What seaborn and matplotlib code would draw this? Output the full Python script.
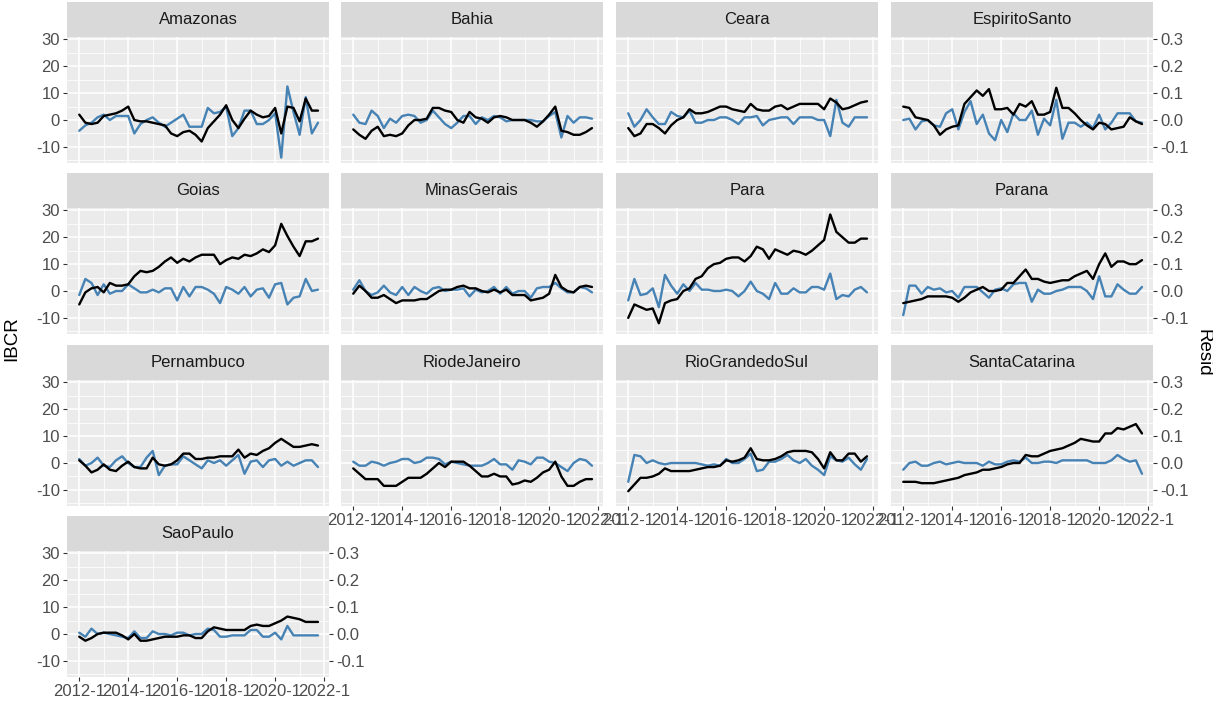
import numpy as np
import pandas as pd
import matplotlib
matplotlib.use("Agg")
import matplotlib.pyplot as plt
from matplotlib.patches import Rectangle
import seaborn as sns

# ---------------------------------------------------------------- data
STATES = ["Amazonas", "Bahia", "Ceara", "EspiritoSanto",
          "Goias", "MinasGerais", "Para", "Parana",
          "Pernambuco", "RiodeJaneiro", "RioGrandedoSul", "SantaCatarina",
          "SaoPaulo"]

# quarterly observations, 2012-01 .. 2021-10
QUARTERS = pd.date_range("2012-01-01", periods=40, freq="QS")

# IBCR deviation, per state
amazonas_ibcr = [2, -1, -1.5, -1, 1.5, 2, 2.5, 3.5, 5, 0, -0.5, -0.5, -1, -1.5, -2, -5,
                 -6, -4.5, -4, -5.5, -8, -3, -0.5, 2, 5.5, 0, -3, 0.5, 3.5, 2, 1, 1.5,
                 4.5, -5, 5, 4.5, -0.5, 8, 3.5, 3.5]
bahia_ibcr = [-3.5, -5.5, -7, -4, -2.5, -6, -5.5, -6, -5, -2, 0, 0, 0.5, 4.5, 4.5, 3.5,
              3, 0, -1, 3, 1, 0.5, -1, 1, 1.5, 1, 0, 0, 0, -1, -2.5, -0.5,
              2, 5, -4, -4.5, -5.5, -5.5, -4.5, -3]
ceara_ibcr = [-3, -6, -5, -1.5, -1.5, -3, -5, -2, 0, 1, 4, 2.5, 2.5, 3, 4, 5,
              5, 4, 3.5, 3, 6, 4, 3.5, 3.5, 5, 5.5, 4, 5, 6, 6, 6, 6,
              4, 8, 6.5, 4, 4.5, 5.5, 6.5, 7]
espiritosanto_ibcr = [5, 4.5, 1, 0.5, 0, -2, -5.5, -3.5, -2.5, -2, 6, 8.5, 11, 9, 11.5, 4,
                      4, 4.5, 2, 6, 5, 7, 2, 2, 3, 12, 4.5, 4.5, 2.5, 0, -2, -3.5,
                      -1, -1.5, -3.5, -3, -2.5, 1, -0.5, -1.5]
goias_ibcr = [-5, -0.5, 1, 1.5, -0.5, 3, 2, 2, 2.5, 5.5, 7.5, 7, 7.5, 9, 11, 12.5,
              10.5, 12, 11, 12.5, 13.5, 13.5, 13.5, 10, 11.5, 12.5, 12, 13.5, 13, 14, 15.5, 14.5,
              17, 25, 20.5, 16.5, 13, 18.5, 18.5, 19.5]
minasgerais_ibcr = [-1, 2, 0, -2.5, -2.5, -1.5, -3, -4.5, -3.5, -3.5, -3.5, -3, -3, -1.5, 0, 0.5,
                    0.5, 1.5, 2, 1, 1, 0, -0.5, 0.5, -0.5, 0.5, -1.5, -1.5, -1.5, -3.5, -3, -2.5,
                    -1, 6, 1.5, 0, -0.5, 1.5, 2, 1.5]
para_ibcr = [-10, -5, -6, -7, -6.5, -12, -4.5, -3.5, -3, 0, 1, 4.5, 5.5, 8.5, 10, 10.5,
             12, 12.5, 12.5, 11, 13, 16.5, 15.5, 12, 15.5, 14.5, 13.5, 15, 14.5, 13.5, 15, 17,
             19, 28.5, 22, 20, 18, 18, 19.5, 19.5]
parana_ibcr = [-4.5, -4, -3.5, -3, -2, -2, -2, -2, -2.5, -4, -2.5, -0.5, 0.5, 1.5, 0, 0,
               0.5, 3, 3, 5.5, 8, 4.5, 4.5, 3.5, 3, 3.5, 4, 4, 5.5, 6.5, 7.5, 4.5,
               10, 14, 9, 11, 11, 10, 10, 11.5]
pernambuco_ibcr = [1, -1, -3.5, -2.5, -0.5, -2.5, -3, -1, 0.5, -1.5, -2, -2, 2, -0.5, -1, -0.5,
                   1, 3.5, 3.5, 1.5, 1.5, 2, 2, 2.5, 2.5, 2.5, 5, 2, 3.5, 3, 4.5, 5.5,
                   7.5, 9, 7.5, 6, 6, 6.5, 7, 6.5]
riodejaneiro_ibcr = [-2, -4, -6, -6, -6, -8.5, -8.5, -8.5, -7, -5.5, -5.5, -5.5, -4, -2, 0, -1.5,
                     0.5, 0.5, 0.5, -1, -3, -5, -5, -4, -5, -5, -8, -7.5, -6.5, -7, -5.5, -3.5,
                     -2.5, 0.5, -5, -8.5, -8.5, -7, -6, -6]
riograndedosul_ibcr = [-10.5, -8, -5.5, -5.5, -5, -4, -2, -3, -3, -3, -3, -2.5, -2, -1.5, -1.5, -1,
                       1, 0.5, 1, 2, 5.5, 1.5, 1, 1, 1.5, 2.5, 4, 4.5, 4.5, 4.5, 4, 1.5,
                       -2, 4, 1, 1, 3.5, 3.5, 0.5, 2.5]
santacatarina_ibcr = [-7, -7, -7, -7.5, -7.5, -7.5, -7, -6.5, -6, -5.5, -4.5, -4, -3.5, -2.5, -2.5, -2,
                      -1.5, -0.5, 0, 0, 3, 2.5, 2.5, 3.5, 4.5, 5, 5.5, 6.5, 7.5, 9, 8.5, 8,
                      8, 11, 11, 13, 12.5, 13.5, 14.5, 11]
saopaulo_ibcr = [-1, -2.5, -1.5, 0, 0.5, 0.5, 0.5, -0.5, -2, 0, -2.5, -2.5, -2, -1.5, -1, -1,
                 -1, -0.5, -0.5, -1.5, -1.5, 1, 2.5, 2, 1.5, 1.5, 1.5, 1.5, 3, 3.5, 3, 3,
                 4, 5, 6.5, 6, 5.5, 4.5, 4.5, 4.5]

# model residuals, per state, in hundredths
amazonas_resid = [-4, -2, -1, 1, 2, 0, 1.5, 1.5, 1.5, -5, -1.5, 0, 1, -1, -2.5, -1,
                  0.5, 2, -2.5, -2.5, -2.5, 4.5, 2.5, 3, 5, -6, -3, 3.5, 3.5, -1.5, -1.5, 0,
                  2.5, -14, 12.5, 3, -5.5, 8.5, -5, -1]
bahia_resid = [2, -1, -1.5, 3.5, 1.5, -3, 0.5, -1, 1.5, 2, 1.5, -1, 0, 3.5, 1, -1.5,
               -3, -1, 1.5, 1.5, -1.5, 1, 0, 1.5, 1, -0.5, 0, 0, 0, 0, -0.5, -0.5,
               1.5, 3, -6.5, 1.5, -1, 1, 1, 0.5]
ceara_resid = [2.5, -2.5, 0, 4, 1, -1.5, -1.5, 3, 1.5, 1, 3.5, -1, -1, 0, 0, 1,
               1, 0, -1.5, 1, 1, 1.5, -2, 0, 0.5, 1, 1, -1.5, 1, 1, 1, 0,
               0, -6, 7.5, -1, -2.5, 1, 1, 1]
espiritosanto_resid = [0, 0.5, -3.5, -0.5, 0, -2, -2.5, 2.5, 4, -3.5, 3, 7, -1.5, 2, -5, -7.5,
                       0, -4.5, 2.5, 0, 0, 3.5, -5.5, 0.5, -2, 7.5, -7, -1, -1, -2.5, -1, -3,
                       2, -3.5, -1, 2.5, 2.5, 2.5, -0.5, -1]
goias_resid = [-1.5, 4.5, 3, -1.5, 2.5, -1, 0, 0, 2.5, 1, -0.5, -0.5, 0.5, -0.5, 1, 1,
               -3.5, 1.5, -2, 1.5, 1.5, 0.5, -1, -4.5, 1.5, 0.5, -1, 1.5, -2, 0.5, 1, -2.5,
               2.5, 3, -5, -2.5, -2, 4.5, 0, 0.5]
minasgerais_resid = [0.5, 4, 0, -1.5, -0.5, 2, -0.5, -1.5, 1.5, -1.5, 1.5, 0, -1, 1, 1.5, 0,
                     0.5, 0.5, 1, -2, 0.5, -0.5, 0, 1.5, -1, 1.5, -1, 0, 0, -2.5, 1, 1.5,
                     1.5, 3, 1, -0.5, -0.5, 1.5, 1, -0.5]
para_resid = [-3.5, 4.5, -1.5, -1, 1, -6, 6, 2, -1, 2.5, 0, 3, 0.5, 0.5, 0, 0,
              0.5, 0, -2, 0, 3.5, 0, -1, -3, 3, -1, -1, 1, -0.5, -0.5, 1.5, 1.5,
              0.5, 6.5, -3, -1.5, -2, 0.5, 1.5, -0.5]
parana_resid = [-9, 2, 2, -1, 1.5, 0.5, 1, -0.5, 0, -2.5, 1.5, 1.5, 1.5, -0.5, -2.5, 0.5,
                1, 0, 2.5, 3, 3, -4, 0.5, -1, -1, 0, 0.5, 1.5, 1.5, 1.5, 0, -3,
                5.5, -2, -2, 2.5, 0.5, -1, -1, 1.5]
pernambuco_resid = [1.5, -1, 0, 2, -1, -1.5, 1, 2.5, 0, -1.5, -1.5, 2, 4.5, -4.5, -1, -0.5,
                    -0.5, 2.5, 1, -0.5, -2, 1, 0, 1, -1, 1, 3, -4, 0.5, 1, -1.5, 1,
                    1.5, -1, 0.5, -1, 0, 1, 1, -1.5]
riodejaneiro_resid = [0.5, -1, -1, 0.5, 0, -1, 0, 0.5, 1.5, 1.5, 0, 0.5, 2, 2, 1.5, -0.5,
                      0.5, 0, -0.5, -1, -1, -1, 0, 1.5, -0.5, -0.5, -2.5, 1, 0.5, -0.5, 2, 2,
                      0.5, 0, -1.5, -3, 0, 1.5, 1, -1]
riograndedosul_resid = [-7, 3, 2.5, 0, 1, 0, -0.5, 0, 0, 0, 0, 0, -0.5, -1, -0.5, -1,
                        1.5, 0, 0, 1.5, 3.5, -3, -2.5, 0.5, 0.5, 1.5, 3, 1, 0, 1.5, -1, -2.5,
                        -4.5, 2.5, 1, 0.5, 2, -0.5, -2.5, 1.5]
santacatarina_resid = [-2.5, 0, 0.5, -1, -1, 0, 0.5, -0.5, 0, 0.5, 0, 0, 0, -1, 0.5, -0.5,
                       -0.5, 0.5, 1, 0.5, 2, 0, 0, 0.5, 0.5, 0, 1, 1, 1, 1, 1, 0,
                       0, 0, 1, 3, 1.5, 0.5, 1, -4]
saopaulo_resid = [0.5, -1, 2, 0, 0.5, 0, -0.5, -1, -1.5, 1, -1.5, -1.5, 1, 0, 0, -0.5,
                  0.5, 0.5, -0.5, 0, 0, 2, 1.5, -1, -1, -0.5, -0.5, -0.5, 1.5, 1.5, -1, -1,
                  0.5, -2, 3, -0.5, -0.5, -0.5, -0.5, -0.5]

IBCR_SERIES = [amazonas_ibcr, bahia_ibcr, ceara_ibcr, espiritosanto_ibcr, goias_ibcr,
               minasgerais_ibcr, para_ibcr, parana_ibcr, pernambuco_ibcr, riodejaneiro_ibcr,
               riograndedosul_ibcr, santacatarina_ibcr, saopaulo_ibcr]
RESID_SERIES = [amazonas_resid, bahia_resid, ceara_resid, espiritosanto_resid, goias_resid,
                minasgerais_resid, para_resid, parana_resid, pernambuco_resid, riodejaneiro_resid,
                riograndedosul_resid, santacatarina_resid, saopaulo_resid]

X_TICK_YEARS = [2012, 2014, 2016, 2018, 2020, 2022]
X_TICK_LABELS = [f"{y}-1" for y in X_TICK_YEARS]
Y_TICKS = [-10, 0, 10, 20, 30]
SEC_TICKS = [-0.1, 0.0, 0.1, 0.2, 0.3]
SEC_LABELS = ["-0.1", "0.0", "0.1", "0.2", "0.3"]

# Resid shares the IBCR axis after scaling by 100 (right axis = left / 100)
RESID_SCALE = 100.0

frames = []
decimal_year = QUARTERS.year + (QUARTERS.month - 1) / 12.0
for state, ib, rs in zip(STATES, IBCR_SERIES, RESID_SERIES):
    frames.append(pd.DataFrame({
        "state": state,
        "t": decimal_year,
        "IBCR": ib,
        "Resid": np.asarray(rs) / 100.0,
    }))
df = pd.concat(frames, ignore_index=True)
df["Resid_on_left"] = df["Resid"] * RESID_SCALE

# ---------------------------------------------------------------- style
sns.set_theme(style="darkgrid", rc={
    "axes.facecolor": "#EBEBEB",
    "grid.color": "white",
    "axes.edgecolor": "none",
})
plt.rcParams["font.family"] = ["Liberation Sans", "DejaVu Sans"]

W, H, DPI = 1213, 708, 100
COL_LEFT = [67, 341, 616, 891]
ROW_TOP = [37, 208, 380, 551]
PW, PH, STRIP_H = 262, 126, 35
TICK_FS = 12
STRIP_FS = 12

g = sns.FacetGrid(df, col="state", col_order=STATES, col_wrap=4,
                  sharex=True, sharey=True, height=1.5, aspect=2, despine=False)
g.map_dataframe(sns.lineplot, x="t", y="Resid_on_left", color="#4682B4", linewidth=1.7)
g.map_dataframe(sns.lineplot, x="t", y="IBCR", color="black", linewidth=1.7)

fig = g.figure
fig.set_size_inches(W / DPI, H / DPI)
fig.set_dpi(DPI)

tick_color = "#333333"
label_color = "#4D4D4D"

for i, (state, ax) in enumerate(zip(STATES, g.axes.flat)):
    r, c = divmod(i, 4)
    ax.set_position([COL_LEFT[c] / W, 1 - (ROW_TOP[r] + PH) / H, PW / W, PH / H])
    ax.set_title("")
    ax.set_xlabel("")
    ax.set_ylabel("")
    ax.set_xlim(2011.5, 2022.2)
    ax.set_ylim(-16.0, 30.9)
    ax.set_xticks(X_TICK_YEARS)
    ax.set_xticklabels(X_TICK_LABELS)
    ax.set_xticks([2013, 2015, 2017, 2019, 2021], minor=True)
    ax.set_yticks(Y_TICKS)
    ax.set_yticklabels([str(v) for v in Y_TICKS])
    ax.set_yticks([-15, -5, 5, 15, 25], minor=True)
    ax.grid(which="major", color="white", linewidth=1.1)
    ax.grid(which="minor", color="white", linewidth=0.55)
    for sp in ax.spines.values():
        sp.set_visible(False)
    ax.tick_params(which="major", length=3, width=0.8, color=tick_color,
                   labelcolor=label_color, labelsize=TICK_FS, pad=2)
    ax.tick_params(which="minor", length=0)

    show_left = c == 0
    show_bottom = i >= 9
    ax.tick_params(axis="y", left=show_left, labelleft=show_left)
    ax.tick_params(axis="x", bottom=show_bottom, labelbottom=show_bottom)

    # facet strip
    ax.add_patch(Rectangle((0, 1), 1, STRIP_H / PH, transform=ax.transAxes,
                           clip_on=False, facecolor="#D9D9D9", edgecolor="none"))
    ax.text(0.5, 1 + STRIP_H / PH / 2, state, transform=ax.transAxes,
            ha="center", va="center", fontsize=STRIP_FS, color="#1A1A1A")

    # secondary Resid axis on the last panel of each row
    if c == 3 or i == len(STATES) - 1:
        sec = ax.secondary_yaxis("right", functions=(lambda v: v / RESID_SCALE,
                                                     lambda v: v * RESID_SCALE))
        sec.set_yticks(SEC_TICKS)
        sec.set_yticklabels(SEC_LABELS)
        for sp in sec.spines.values():
            sp.set_visible(False)
        sec.tick_params(length=3, width=0.8, color=tick_color,
                        labelcolor=label_color, labelsize=TICK_FS, pad=2)

fig.text(12 / W, 1 - 339 / H, "IBCR", rotation=90, ha="center", va="center",
         fontsize=13.5, color="black")
fig.text(1203 / W, 1 - 353 / H, "Resid", rotation=270, ha="center", va="center",
         fontsize=13.5, color="black")

fig.savefig("out.png", dpi=DPI, facecolor="white")
